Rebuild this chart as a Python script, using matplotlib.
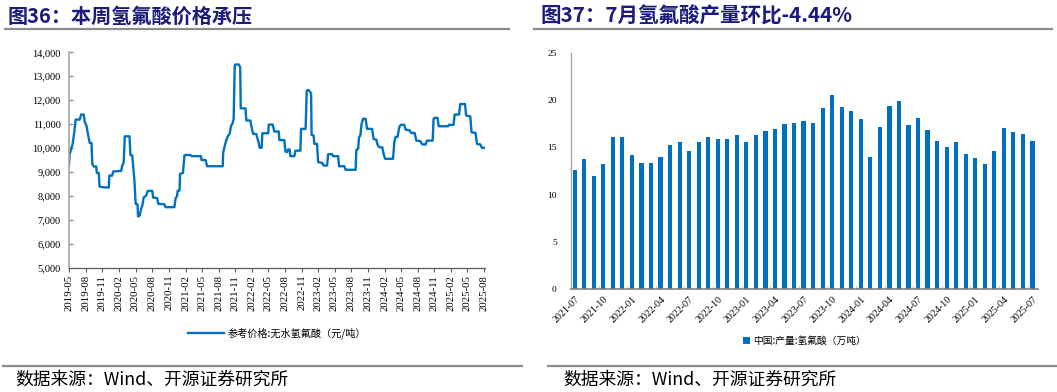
import matplotlib
matplotlib.use("Agg")
import matplotlib.pyplot as plt
import matplotlib.dates as mdates
from matplotlib.lines import Line2D
from matplotlib.ticker import FuncFormatter, FixedLocator
import pandas as pd

plt.rcParams['font.family'] = ['Noto Sans CJK SC', 'DejaVu Sans']

# ---------------- data ----------------
price_dates = [
    "2019-05-01", "2019-05-04", "2019-05-13", "2019-05-22", "2019-05-31", "2019-06-07", "2019-06-29",
    "2019-07-07", "2019-07-21", "2019-07-27", "2019-08-05", "2019-08-12", "2019-08-23", "2019-09-02",
    "2019-09-06", "2019-09-14", "2019-09-28", "2019-10-01", "2019-10-12", "2019-10-16", "2019-11-08",
    "2019-12-06", "2019-12-09", "2019-12-25", "2019-12-30", "2020-02-12", "2020-02-18", "2020-02-26",
    "2020-03-03", "2020-03-29", "2020-04-03", "2020-04-13", "2020-04-18", "2020-04-25", "2020-05-02",
    "2020-05-12", "2020-05-15", "2020-05-24", "2020-06-01", "2020-06-08", "2020-06-15", "2020-06-29",
    "2020-07-07", "2020-08-01", "2020-08-06", "2020-08-28", "2020-09-03", "2020-10-07", "2020-10-13",
    "2020-12-01", "2020-12-07", "2020-12-16", "2020-12-19", "2020-12-29", "2021-01-01", "2021-01-17",
    "2021-01-25", "2021-01-31", "2021-02-27", "2021-03-05", "2021-04-27", "2021-04-29", "2021-05-21",
    "2021-05-30", "2021-08-24", "2021-08-26", "2021-09-04", "2021-09-13", "2021-09-23", "2021-10-01",
    "2021-10-09", "2021-10-16", "2021-10-23", "2021-10-29", "2021-11-02", "2021-11-20", "2021-11-28",
    "2021-12-01", "2021-12-27", "2022-01-01", "2022-01-23", "2022-01-29", "2022-02-07", "2022-02-24",
    "2022-03-01", "2022-03-10", "2022-03-15", "2022-03-26", "2022-03-30", "2022-05-01", "2022-05-04",
    "2022-05-26", "2022-06-04", "2022-06-28", "2022-07-02", "2022-07-29", "2022-08-04", "2022-08-13",
    "2022-08-19", "2022-08-27", "2022-08-31", "2022-09-22", "2022-09-28", "2022-10-25", "2022-10-29",
    "2022-11-23", "2022-11-29", "2022-12-08", "2022-12-23", "2022-12-26", "2023-01-06", "2023-01-10",
    "2023-01-25", "2023-01-31", "2023-02-22", "2023-03-02", "2023-03-21", "2023-03-27", "2023-04-18",
    "2023-04-23", "2023-05-21", "2023-05-26", "2023-06-24", "2023-07-01", "2023-08-25", "2023-08-29",
    "2023-09-08", "2023-09-13", "2023-09-20", "2023-09-27", "2023-10-05", "2023-10-19", "2023-10-27",
    "2023-11-24", "2023-12-02", "2023-12-17", "2023-12-24", "2024-01-03", "2024-01-19", "2024-01-26",
    "2024-02-03", "2024-03-18", "2024-03-25", "2024-03-31", "2024-04-12", "2024-04-22", "2024-05-01",
    "2024-05-19", "2024-05-26", "2024-06-17", "2024-06-25", "2024-07-15", "2024-07-24", "2024-08-15",
    "2024-08-25", "2024-09-12", "2024-09-21", "2024-10-22", "2024-10-27", "2024-11-02", "2024-11-18",
    "2024-11-24", "2025-01-15", "2025-01-20", "2025-02-14", "2025-02-20", "2025-03-16", "2025-03-23",
    "2025-04-18", "2025-04-24", "2025-05-17", "2025-05-24", "2025-06-15", "2025-06-23", "2025-07-11",
    "2025-07-20", "2025-08-02",
]
price_values = [
    9270, 9730, 9960, 10210, 10730, 11190, 11190,
    11400, 11400, 11080, 10940, 10630, 10210, 10210,
    9340, 9230, 9230, 8960, 8960, 8390, 8360,
    8350, 8850, 8850, 9020, 9045, 9270, 9400,
    10490, 10490, 9710, 9690, 9270, 8640, 7670,
    7650, 7140, 7180, 7460, 7620, 7940, 8010,
    8210, 8210, 7930, 7910, 7670, 7650, 7530,
    7530, 7880, 8010, 8220, 8220, 8920, 8960,
    9690, 9710, 9710, 9660, 9660, 9500, 9500,
    9240, 9240, 9780, 10100, 10340, 10520, 10590,
    10940, 11010, 11220, 13450, 13490, 13490, 13380,
    11660, 11660, 11150, 11150, 10900, 10590, 10590,
    10450, 10210, 10010, 10010, 10620, 10620, 10980,
    10980, 10690, 10690, 10330, 10330, 9850, 9830,
    9940, 9940, 9660, 9660, 9890, 9890, 10800,
    10800, 12400, 12430, 12290, 10550, 10520, 10170,
    10170, 9410, 9380, 9270, 9270, 9740, 9740,
    9660, 9660, 9240, 9240, 9090, 9090, 9920,
    9960, 10450, 10520, 11010, 11220, 11220, 10800,
    10800, 10380, 10350, 10130, 10030, 10030, 9760,
    9550, 9550, 10240, 10450, 10470, 10900, 10970,
    10970, 10770, 10740, 10630, 10630, 10310, 10290,
    10160, 10140, 10310, 10310, 11220, 11260, 11260,
    10910, 10910, 10970, 10970, 11400, 11400, 11840,
    11840, 11360, 11320, 10660, 10630, 10170, 10150,
    10010, 10010,
]
price_label = "参考价格:无水氢氟酸（元/吨）"

output_months = [
    "2021-07", "2021-08", "2021-09", "2021-10", "2021-11", "2021-12",
    "2022-01", "2022-02", "2022-03", "2022-04", "2022-05", "2022-06",
    "2022-07", "2022-08", "2022-09", "2022-10", "2022-11", "2022-12",
    "2023-01", "2023-02", "2023-03", "2023-04", "2023-05", "2023-06",
    "2023-07", "2023-08", "2023-09", "2023-10", "2023-11", "2023-12",
    "2024-01", "2024-02", "2024-03", "2024-04", "2024-05", "2024-06",
    "2024-07", "2024-08", "2024-09", "2024-10", "2024-11", "2024-12",
    "2025-01", "2025-02", "2025-03", "2025-04", "2025-05", "2025-06",
    "2025-07",
]
output_values = [
    12.6, 13.8, 12.0, 13.2, 16.1, 16.1,
    14.2, 13.4, 13.4, 14.0, 15.25, 15.6,
    14.6, 15.6, 16.1, 15.9, 15.9, 16.3,
    15.6, 16.35, 16.7, 17.0, 17.45, 17.55,
    17.8, 17.6, 19.2, 20.5, 19.25, 18.85,
    18.0, 14.0, 17.2, 19.35, 19.95, 17.4,
    18.1, 16.8, 15.65, 15.05, 15.55, 14.3,
    13.85, 13.25, 14.6, 17.05, 16.6, 16.45,
    15.72,
]
output_label = "中国:产量:氢氟酸（万吨）"

title_left = "图36：本周氢氟酸价格承压"
title_right = "图37：7月氢氟酸产量环比-4.44%"
source_text = "数据来源：Wind、开源证券研究所"

# ---------------- figure ----------------
W, H = 1057, 392
fig = plt.figure(figsize=(W / 100, H / 100), dpi=100)
BLUE = "#0070C0"
NAVY = "#1b1b7d"
SERIF = ["Liberation Serif", "DejaVu Serif"]


def px_axes(x0, y0, x1, y1):
    return fig.add_axes([x0 / W, 1 - y1 / H, (x1 - x0) / W, (y1 - y0) / H])


def hline(x0, x1, y, color="#8c8c8c", lw=1.6):
    fig.add_artist(Line2D([x0 / W, x1 / W], [1 - y / H, 1 - y / H], color=color, lw=lw,
                          transform=fig.transFigure))


# titles / rules / sources
fig.text(8 / W, 1 - 16 / H, title_left, fontsize=14.5, weight="bold", color=NAVY, va="center")
fig.text(541 / W, 1 - 16 / H, title_right, fontsize=14.8, weight="bold", color=NAVY, va="center")
hline(5, 509, 29)
hline(534, 1052, 29)
hline(3, 522, 366)
hline(548, 1057, 366)
fig.text(15 / W, 1 - 380 / H, source_text, fontsize=12.8, color="black", va="center")
fig.text(563 / W, 1 - 380 / H, source_text, fontsize=12.8, color="black", va="center")

# ---------------- left: price line ----------------
ax1 = px_axes(69, 52.3, 485, 267.7)
d = pd.to_datetime(price_dates)
ax1.plot(d, price_values, color=BLUE, lw=1.7, label=price_label)
ax1.set_ylim(5000, 14000)
ax1.set_yticks(range(5000, 14001, 1000))
ax1.yaxis.set_major_formatter(FuncFormatter(lambda v, p: f"{int(v):,}"))
ax1.set_xlim(pd.Timestamp("2019-05-01"), pd.Timestamp("2025-08-06"))
ticks = pd.date_range("2019-05-01", "2025-08-01", freq="3MS")
ax1.set_xticks(ticks)
ax1.xaxis.set_major_formatter(mdates.DateFormatter("%Y-%m"))
for s in ["top", "right"]:
    ax1.spines[s].set_visible(False)
ax1.spines["left"].set_color("#a6a6a6")
ax1.spines["left"].set_linewidth(1.2)
ax1.spines["bottom"].set_color("#595959")
ax1.spines["bottom"].set_linewidth(0.9)
ax1.tick_params(axis="y", direction="in", length=3, color="#808080", labelsize=7.5, pad=6)
ax1.tick_params(axis="x", direction="out", length=3, color="#595959", labelsize=7.8, pad=2,
                labelrotation=90)
for lab in ax1.get_xticklabels() + ax1.get_yticklabels():
    lab.set_fontfamily(SERIF)
ax1.legend(loc="center", bbox_to_anchor=(0.5, -0.303), frameon=False, fontsize=7.3,
           handlelength=3.6, handletextpad=0.3)

# ---------------- right: output bars ----------------
ax2 = px_axes(570.7, 53, 1037.7, 289)
x = list(range(len(output_months)))
ax2.bar(x, output_values, width=0.44, color=BLUE, label=output_label)
ax2.set_ylim(0, 25)
ax2.set_yticks(range(0, 26, 5))
ax2.set_xlim(-0.42, len(x) - 0.45)
ax2.set_xticks(x[::3])
ax2.set_xticklabels(output_months[::3], rotation=45, ha="right", rotation_mode="anchor")
ax2.xaxis.set_minor_locator(FixedLocator([i - 0.5 for i in x[::3] if i > 0]))
for s in ["top", "right"]:
    ax2.spines[s].set_visible(False)
ax2.spines["left"].set_color("#a6a6a6")
ax2.spines["left"].set_linewidth(1.0)
ax2.spines["bottom"].set_color("#808080")
ax2.spines["bottom"].set_linewidth(1.2)
ax2.tick_params(axis="y", direction="out", length=0, labelsize=6.8, pad=10)
ax2.tick_params(axis="x", which="major", length=0, labelsize=7.2, pad=4)
ax2.tick_params(axis="x", which="minor", direction="in", length=2.5, color="#a6a6a6")
for lab in ax2.get_xticklabels() + ax2.get_yticklabels():
    lab.set_fontfamily(SERIF)
ax2.legend(loc="center", bbox_to_anchor=(0.5, -0.22), frameon=False, fontsize=7,
           handlelength=0.7, handleheight=0.7, handletextpad=0.3)

fig.savefig("out.png", dpi=100)
